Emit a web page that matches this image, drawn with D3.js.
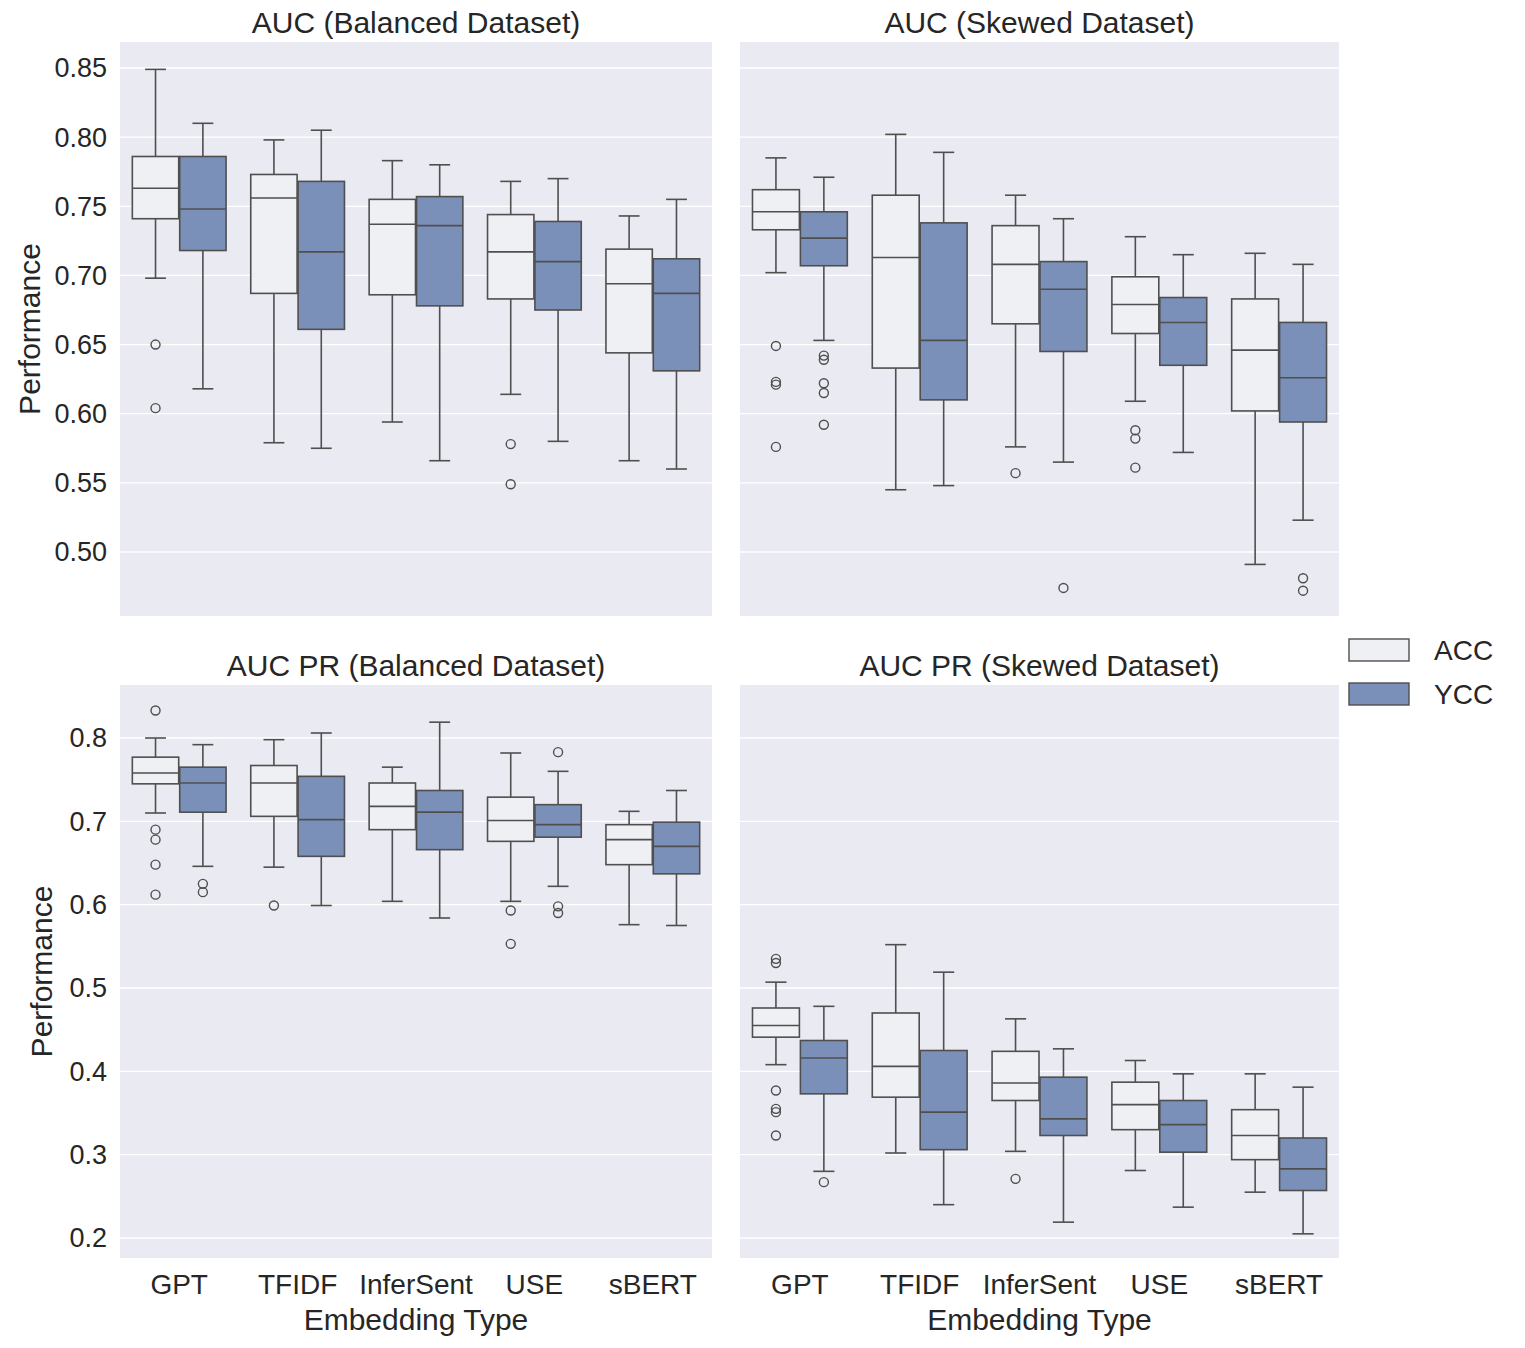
<!DOCTYPE html>
<html><head><meta charset="utf-8">
<script src="https://cdn.jsdelivr.net/npm/d3@7"></script>
<style>body{margin:0;background:#fff}text{font-family:Arial,"Liberation Sans",sans-serif;fill:#262626}</style>
</head><body><svg id="c" width="1525" height="1348"></svg>
<script>
const categories = ["GPT","TFIDF","InferSent","USE","sBERT"];
const hues = ["ACC","YCC"];
const titles = ["AUC (Balanced Dataset)","AUC (Skewed Dataset)","AUC PR (Balanced Dataset)","AUC PR (Skewed Dataset)"];
const topTicks = [0.50,0.55,0.60,0.65,0.70,0.75,0.80,0.85];
const bottomTicks = [0.2,0.3,0.4,0.5,0.6,0.7,0.8];
// each entry: [lowWhisker, q1, median, q3, highWhisker, outliers]
const aucBalACC = [[0.698,0.741,0.763,0.786,0.849,[0.650,0.604]],[0.579,0.687,0.756,0.773,0.798,[]],[0.594,0.686,0.737,0.755,0.783,[]],[0.614,0.683,0.717,0.744,0.768,[0.578,0.549]],[0.566,0.644,0.694,0.719,0.743,[]]];
const aucBalYCC = [[0.618,0.718,0.748,0.786,0.810,[]],[0.575,0.661,0.717,0.768,0.805,[]],[0.566,0.678,0.736,0.757,0.780,[]],[0.580,0.675,0.710,0.739,0.770,[]],[0.560,0.631,0.687,0.712,0.755,[]]];
const aucSkwACC = [[0.702,0.733,0.746,0.762,0.785,[0.649,0.623,0.621,0.576]],[0.545,0.633,0.713,0.758,0.802,[]],[0.576,0.665,0.708,0.736,0.758,[0.557]],[0.609,0.658,0.679,0.699,0.728,[0.588,0.582,0.561]],[0.491,0.602,0.646,0.683,0.716,[]]];
const aucSkwYCC = [[0.653,0.707,0.727,0.746,0.771,[0.642,0.639,0.622,0.615,0.592]],[0.548,0.610,0.653,0.738,0.789,[]],[0.565,0.645,0.690,0.710,0.741,[0.474]],[0.572,0.635,0.666,0.684,0.715,[]],[0.523,0.594,0.626,0.666,0.708,[0.481,0.472]]];
const prBalACC = [[0.710,0.745,0.758,0.777,0.800,[0.833,0.690,0.678,0.648,0.612]],[0.645,0.706,0.746,0.767,0.798,[0.599]],[0.604,0.690,0.718,0.746,0.765,[]],[0.604,0.676,0.701,0.729,0.782,[0.593,0.553]],[0.576,0.648,0.678,0.696,0.712,[]]];
const prBalYCC = [[0.646,0.711,0.746,0.765,0.792,[0.625,0.615]],[0.599,0.658,0.702,0.754,0.806,[]],[0.584,0.666,0.711,0.737,0.819,[]],[0.622,0.681,0.696,0.720,0.760,[0.783,0.598,0.590]],[0.575,0.637,0.670,0.699,0.737,[]]];
const prSkwACC = [[0.408,0.441,0.455,0.476,0.507,[0.535,0.530,0.377,0.355,0.351,0.323]],[0.302,0.369,0.406,0.470,0.552,[]],[0.304,0.365,0.386,0.424,0.463,[0.271]],[0.281,0.330,0.360,0.387,0.413,[]],[0.255,0.294,0.323,0.354,0.397,[]]];
const prSkwYCC = [[0.280,0.373,0.416,0.437,0.478,[0.267]],[0.240,0.306,0.351,0.425,0.519,[]],[0.219,0.323,0.343,0.393,0.427,[]],[0.237,0.303,0.336,0.365,0.397,[]],[0.205,0.257,0.283,0.320,0.381,[]]];

const panelData = [[aucBalACC,aucBalYCC],[aucSkwACC,aucSkwYCC],[prBalACC,prBalYCC],[prSkwACC,prSkwYCC]];
const fills = {ACC:"#eff0f3",YCC:"#7b90b9"};
const lineC = "#4f4f4f";
const svg = d3.select("#c");
const cols = [[120,712],[740,1339]];
const rows = [[42,616],[685,1258]];
const yDomains = [[0.4537,0.8688],[0.176,0.8636]];

panelData.forEach((pd,pi)=>{
  const r = Math.floor(pi/2), c = pi%2;
  const [x0,x1] = cols[c], [y0,y1] = rows[r];
  const y = d3.scaleLinear().domain(yDomains[r]).range([y1,y0]);
  const x = d3.scaleBand().domain(categories).range([x0,x1]);
  const h = d3.scaleBand().domain(hues).range([0,x.bandwidth()*0.8]);
  const g = svg.append("g");
  g.append("rect").attr("x",x0).attr("y",y0).attr("width",x1-x0).attr("height",y1-y0).attr("fill","#eaeaf2");
  const ticks = r===0?topTicks:bottomTicks;
  const fmt = d3.format(r===0?".2f":".1f");
  ticks.forEach(t=>{
    g.append("line").attr("x1",x0).attr("x2",x1).attr("y1",y(t)).attr("y2",y(t)).attr("stroke","#fff").attr("stroke-width",1.3);
    if(c===0) g.append("text").attr("x",x0-13).attr("y",y(t)).attr("dy","0.35em").attr("text-anchor","end").attr("font-size",27).text(fmt(t));
  });
  g.append("text").attr("x",(x0+x1)/2).attr("y",y0-9).attr("text-anchor","middle").attr("font-size",30).text(titles[pi]);
  if(c===0) g.append("text").attr("transform",`translate(${r===0?40:52},${(y0+y1)/2}) rotate(-90)`).attr("text-anchor","middle").attr("font-size",30).text("Performance");
  if(r===1){
    categories.forEach(cat=>g.append("text").attr("x",x(cat)+x.bandwidth()/2).attr("y",y1+36).attr("text-anchor","middle").attr("font-size",28).text(cat));
    g.append("text").attr("x",(x0+x1)/2).attr("y",y1+72).attr("text-anchor","middle").attr("font-size",30).text("Embedding Type");
  }
  hues.forEach((hu,hi)=>{
    pd[hi].forEach((s,ci)=>{
      const [lo,q1,md,q3,hi2,out] = s;
      const bx = x(categories[ci]) + x.bandwidth()*0.1 + h(hu) + 0.5;
      const bw = h.bandwidth() - 1;
      const cx = bx + bw/2, cap = bw*0.45;
      const L = (a,b,c2,d)=>g.append("line").attr("x1",a).attr("y1",b).attr("x2",c2).attr("y2",d).attr("stroke",lineC).attr("stroke-width",1.6);
      L(cx,y(q3),cx,y(hi2)); L(cx,y(q1),cx,y(lo));
      L(cx-cap/2,y(hi2),cx+cap/2,y(hi2)); L(cx-cap/2,y(lo),cx+cap/2,y(lo));
      g.append("rect").attr("x",bx).attr("y",y(q3)).attr("width",bw).attr("height",y(q1)-y(q3)).attr("fill",fills[hu]).attr("stroke",lineC).attr("stroke-width",1.6);
      L(bx,y(md),bx+bw,y(md));
      out.forEach(o=>g.append("circle").attr("cx",cx).attr("cy",y(o)).attr("r",4.5).attr("fill","none").attr("stroke",lineC).attr("stroke-width",1.4));
    });
  });
});
const lg = svg.append("g");
hues.forEach((hu,i)=>{
  const yy = 639 + i*44;
  lg.append("rect").attr("x",1349).attr("y",yy).attr("width",60).attr("height",22).attr("fill",fills[hu]).attr("stroke",lineC).attr("stroke-width",1.4);
  lg.append("text").attr("x",1434).attr("y",yy+11).attr("dy","0.35em").attr("font-size",28).text(hu);
});
</script></body></html>
